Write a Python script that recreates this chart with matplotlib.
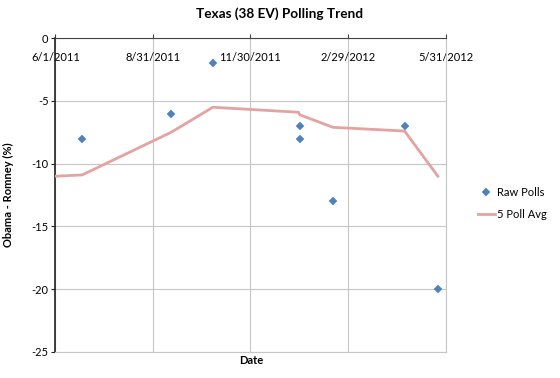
import matplotlib
matplotlib.use("Agg")
import matplotlib.pyplot as plt
import matplotlib.dates as mdates
import numpy as np
from datetime import datetime

plt.rcParams['font.family'] = ['Lato', 'DejaVu Sans']

# Raw polls
poll_dates = ["2011-06-26", "2011-09-17", "2011-10-26", "2012-01-15", "2012-01-15",
              "2012-02-15", "2012-04-22", "2012-05-23"]
poll_values = [-8, -6, -2, -7, -8, -13, -7, -20]

# 5 poll average
avg_dates = ["2011-06-01", "2011-06-26", "2011-09-17", "2011-10-26", "2012-01-14",
             "2012-01-15", "2012-02-15", "2012-04-22", "2012-05-23"]
avg_values = [-11.0, -10.9, -7.5, -5.5, -5.9, -6.1, -7.1, -7.4, -11.0]

x_ticks = ["2011-06-01", "2011-08-31", "2011-11-30", "2012-02-29", "2012-05-31"]
x_tick_labels = ["6/1/2011", "8/31/2011", "11/30/2011", "2/29/2012", "5/31/2012"]
y_ticks = [-25, -20, -15, -10, -5, 0]

to_dt = lambda s: datetime.strptime(s, "%Y-%m-%d")

fig = plt.figure(figsize=(5.6, 3.78), dpi=100)
ax = fig.add_axes([55.4/560, 1-351.7/378, (446.4-55.4)/560, (351.7-38.3)/378])

grid_c = '#c6c6c6'
ax.plot([to_dt(d) for d in avg_dates], avg_values, color='#e3a3a1', lw=2.0,
        label='5 Poll Avg', zorder=3)
ax.plot([to_dt(d) for d in poll_dates], poll_values, linestyle='none', marker='D',
        markersize=4, color='#4f81bd', mec='#4f81bd', mew=0.3, label='Raw Polls', zorder=4)

ax.set_xlim(to_dt(x_ticks[0]), to_dt(x_ticks[-1]))
ax.set_ylim(-25, 0)
ax.set_xticks([to_dt(d) for d in x_ticks])
ax.set_xticklabels(x_tick_labels)
ax.set_yticks(y_ticks)
ax.set_yticklabels([str(v) for v in y_ticks])

ax.grid(True, color=grid_c, lw=0.8, zorder=0)
ax.set_axisbelow(True)

for s in ['right', 'bottom']:
    ax.spines[s].set_color(grid_c)
    ax.spines[s].set_linewidth(0.8)
ax.spines['left'].set_color('#222222')
ax.spines['left'].set_linewidth(1.2)
ax.spines['top'].set_color('#444444')
ax.spines['top'].set_linewidth(0.8)

ax.tick_params(axis='x', bottom=False, labelbottom=False, top=True, labeltop=True,
               direction='out', length=3, pad=-21, labelsize=8, color='#444444')
ax.tick_params(axis='y', direction='out', length=3, labelsize=8, pad=2, color='#222222')

ax.set_ylabel('Obama - Romney (%)', fontsize=8, fontweight='bold')
ax.yaxis.set_label_coords(-0.106, 0.5)
ax.set_xlabel('Date', fontsize=8, fontweight='bold')
ax.xaxis.set_label_position('bottom')
ax.xaxis.set_label_coords(0.5, -0.012)

fig.suptitle('Texas (38 EV) Polling Trend', x=0.5, y=1-13.5/378, va='center',
             fontsize=9.8, fontweight='bold')

h, l = ax.get_legend_handles_labels()
ax.legend(h[::-1], l[::-1], loc='center left', bbox_to_anchor=(478/560, 1-203.6/378),
          bbox_transform=fig.transFigure, frameon=False, fontsize=8, handlelength=1.5,
          handletextpad=0.2, labelspacing=1.0, borderpad=0, borderaxespad=0, numpoints=1)

fig.savefig('out.png', dpi=100)
